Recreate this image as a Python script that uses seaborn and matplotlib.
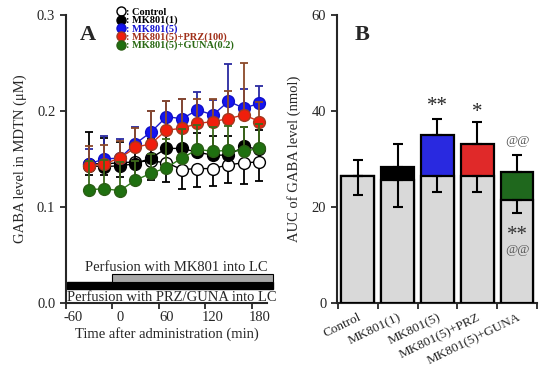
import numpy as np
import pandas as pd
import matplotlib
matplotlib.use("Agg")
import matplotlib.pyplot as plt
from matplotlib.patches import Rectangle
from matplotlib.lines import Line2D
import seaborn as sns

sns.set_style("ticks")
plt.rcParams['font.family'] = ['Liberation Serif', 'DejaVu Serif']
plt.rcParams['axes.linewidth'] = 1.5

# ---------------- Panel A data ----------------
time = [-40, -20, 0, 20, 40, 60, 80, 100, 120, 140, 160, 180]
control = [0.145, 0.145, 0.146, 0.147, 0.148, 0.146, 0.139, 0.140, 0.140, 0.144, 0.146, 0.147]
mk1 = [0.143, 0.142, 0.143, 0.145, 0.151, 0.161, 0.161, 0.157, 0.154, 0.154, 0.163, 0.160]
mk5 = [0.145, 0.150, 0.151, 0.166, 0.178, 0.194, 0.192, 0.201, 0.196, 0.210, 0.203, 0.208]
prz = [0.143, 0.145, 0.151, 0.162, 0.166, 0.180, 0.182, 0.187, 0.189, 0.192, 0.196, 0.189]
guna = [0.118, 0.119, 0.117, 0.128, 0.135, 0.141, 0.151, 0.160, 0.158, 0.159, 0.158, 0.161]

control_err = [0.012, 0.012, 0.015, 0.020, 0.020, 0.020, 0.020, 0.019, 0.018, 0.019, 0.022, 0.020]
mk1_err = [0.035, 0.030, 0.025, 0.020, 0.020, 0.020, 0.020, 0.020, 0.020, 0.020, 0.020, 0.020]
mk5_err = [0.015, 0.024, 0.020, 0.017, 0.022, 0.016, 0.020, 0.019, 0.015, 0.039, 0.020, 0.018]
prz_err = [0.021, 0.020, 0.018, 0.020, 0.034, 0.030, 0.030, 0.025, 0.023, 0.029, 0.054, 0.020]
guna_err = [0.030, 0.030, 0.030, 0.020, 0.020, 0.030, 0.030, 0.025, 0.025, 0.025, 0.025, 0.025]

legend_labels = [": Control", ": MK801(1)", ": MK801(5)", ": MK801(5)+PRZ(100)", ": MK801(5)+GUNA(0.2)"]
xtick_a = [-60, 0, 60, 120, 180]
ytick_a = [0.0, 0.1, 0.2, 0.3]

# ---------------- Panel B data ----------------
groups = ["Control", "MK801(1)", "MK801(5)", "MK801(5)+PRZ", "MK801(5)+GUNA"]
auc_total = [26.5, 28.4, 35.0, 33.2, 27.4]
auc_base = [26.5, 25.7, 26.5, 26.5, 21.5]
auc_err_up = [3.3, 4.8, 3.3, 4.6, 3.5]
auc_err_low = [4.0, 5.6, 3.4, 3.4, 2.8]
ytick_b = [0, 20, 40, 60]

# ---------------- figure ----------------
fig = plt.figure(figsize=(5.5, 3.77), dpi=100)
axA = fig.add_axes([0.1195, 0.1963, 0.3664, 0.764])
axB = fig.add_axes([0.6122, 0.1955, 0.3642, 0.7647])

series = [
    (control, control_err, 'white', 'black', 'black', 'black', 'low'),
    (mk1, mk1_err, 'black', 'black', 'black', 'black', 'up'),
    (mk5, mk5_err, '#1414f0', '#1010c8', '#1a1acc', '#2a2aa0', 'up'),
    (prz, prz_err, '#f01e0c', '#a03a20', '#d0301a', '#8b4a2a', 'up'),
    (guna, guna_err, '#1f7010', '#2a5e14', '#2c7a18', '#3d6a1c', 'up'),
]

for i, (vals, err, fc, ec, lc, errc, direction) in enumerate(series):
    z = 3 + i
    zeros = [0] * len(err)
    yerr = [err, zeros] if direction == 'low' else [zeros, err]
    axA.errorbar(time, vals, yerr=yerr, fmt='none', ecolor=errc, elinewidth=1.3,
                 capsize=3, capthick=1.3, zorder=z)
    sns.lineplot(x=time, y=vals, ax=axA, color=lc, linewidth=1.0, marker='o',
                 markersize=8.5, markerfacecolor=fc, markeredgecolor=ec,
                 markeredgewidth=1.0, zorder=z + 0.5, legend=False)

axA.set_xlim(-70, 190)
axA.set_ylim(0, 0.3)
axA.set_xticks(xtick_a)
axA.set_xticklabels([str(t) for t in xtick_a])
axA.set_xticks([-70, -10, 50, 110, 170], minor=True)
axA.tick_params(axis='x', which='major', length=0, labelsize=10.5, pad=6)
axA.tick_params(axis='x', which='minor', length=4, width=1.3)
axA.set_yticks(ytick_a)
axA.set_yticklabels([f"{v:.1f}" for v in ytick_a])
axA.tick_params(axis='y', length=4, width=1.3, labelsize=10.5)
sns.despine(ax=axA)
axA.set_xlabel("Time after administration (min)", fontsize=10.5, labelpad=2)
axA.set_ylabel("GABA level in MDTN (μM)", fontsize=10.5, labelpad=7)

# perfusion bars
axA.add_patch(Rectangle((-68, 0.0146), 265, 0.0076, facecolor='black',
                        edgecolor='black', clip_on=False, zorder=2))
axA.add_patch(Rectangle((-10.7, 0.0222), 207.7, 0.0077, facecolor='#a8a8a8',
                        edgecolor='black', linewidth=0.8, clip_on=False, zorder=2))
axA.text(191, 0.037, "Perfusion with MK801 into LC", ha='right', va='center', fontsize=10.5)
axA.text(-68, 0.0062, "Perfusion with PRZ/GUNA into LC", ha='left', va='center',
         fontsize=10.5, clip_on=False)

axA.text(0.07, 0.93, "A", transform=axA.transAxes, fontsize=16, fontweight='bold',
         ha='left', va='center')

# legend
handles = []
for (vals, err, fc, ec, lc, errc, d) in series:
    handles.append(Line2D([], [], linestyle='none', marker='o', markersize=6.5,
                          markerfacecolor=fc, markeredgecolor=ec, markeredgewidth=1.0))
leg = axA.legend(handles, legend_labels, loc='upper left', bbox_to_anchor=(0.258, 1.025),
                 frameon=False, prop={'family': 'Liberation Serif', 'weight': 'bold', 'size': 7.5},
                 handlelength=0.6, handletextpad=0.15, labelspacing=-0.12, borderpad=0,
                 borderaxespad=0)
text_colors = ['black', 'black', '#1414d0', '#a0301a', '#2a6a14']
for t, c in zip(leg.get_texts(), text_colors):
    t.set_color(c)

# ---------------- Panel B ----------------
bar_colors = ['#d9d9d9', 'black', '#0a0aff', '#ff0a0a', '#137510']
dfB = pd.DataFrame({"group": groups, "total": auc_total, "base": auc_base})
sns.barplot(data=dfB, x="group", y="total", hue="group", order=groups, hue_order=groups,
            palette=dict(zip(groups, bar_colors)), edgecolor='black', linewidth=1.6,
            width=0.82, legend=False, ax=axB, zorder=2)
sns.barplot(data=dfB, x="group", y="base", order=groups, color='#d9d9d9',
            edgecolor='black', linewidth=1.6, width=0.82, ax=axB, zorder=3)
pos = np.arange(len(groups))
axB.errorbar(pos, auc_total, yerr=[[0] * 5, auc_err_up], fmt='none', ecolor='black',
             elinewidth=1.5, capsize=3.5, capthick=1.5, zorder=4)
axB.errorbar(pos, auc_base, yerr=[auc_err_low, [0] * 5], fmt='none', ecolor='black',
             elinewidth=1.5, capsize=3.5, capthick=1.5, zorder=4)

axB.set_xlim(-0.53, 4.5)
axB.set_ylim(0, 60)
axB.set_yticks(ytick_b)
axB.tick_params(axis='y', length=4, width=1.3, labelsize=10.5)
axB.set_xticks(pos)
axB.set_xticklabels(groups, rotation=26, ha='right', rotation_mode='anchor', fontsize=9.5)
axB.set_xticks(np.arange(-0.5, 5.0, 1.0), minor=True)
axB.tick_params(axis='x', which='major', length=0, pad=6)
axB.tick_params(axis='x', which='minor', length=4, width=1.3)
sns.despine(ax=axB)
axB.set_xlabel("")
axB.set_ylabel("AUC of GABA level (nmol)", fontsize=10.5, labelpad=8)

axB.text(2, 40.9, "**", ha='center', va='center', fontsize=15)
axB.text(3, 39.7, "*", ha='center', va='center', fontsize=15)
axB.text(4, 33.8, "@@", ha='center', va='center', fontsize=9.5, color='#555555')
axB.text(4, 14.2, "**", ha='center', va='center', fontsize=15, color='#333333')
axB.text(4, 11.1, "@@", ha='center', va='center', fontsize=9.5, color='#555555')
axB.text(0.09, 0.93, "B", transform=axB.transAxes, fontsize=16, fontweight='bold',
         ha='left', va='center')

fig.savefig("out.png", dpi=100)
